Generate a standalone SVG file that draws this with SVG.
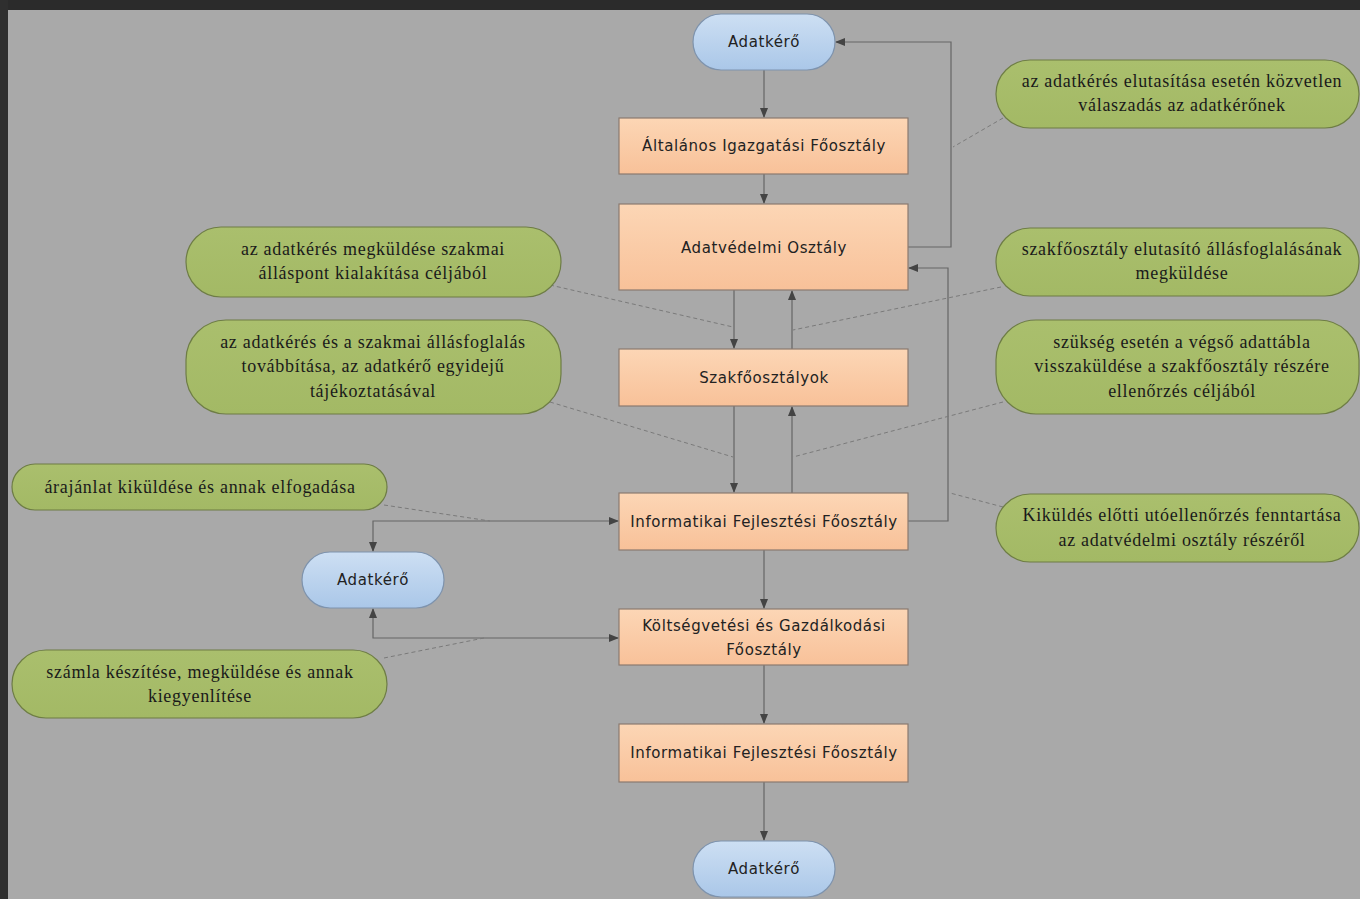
<svg xmlns="http://www.w3.org/2000/svg" width="1360" height="899" viewBox="0 0 1360 899">
<defs>
<linearGradient id="gBox" x1="0" y1="0" x2="0" y2="1"><stop offset="0" stop-color="#fcd6b5"/><stop offset="1" stop-color="#f8c199"/></linearGradient>
<linearGradient id="gBlue" x1="0" y1="0" x2="0" y2="1"><stop offset="0" stop-color="#cddff3"/><stop offset="1" stop-color="#aac7e8"/></linearGradient>
<linearGradient id="gGreen" x1="0" y1="0" x2="0" y2="1"><stop offset="0" stop-color="#aabf6d"/><stop offset="1" stop-color="#a3b965"/></linearGradient>
<marker id="arr" markerWidth="10" markerHeight="10" refX="9" refY="5" orient="auto" markerUnits="userSpaceOnUse"><path d="M0,1 L10,5 L0,9 Z" fill="#444"/></marker>
<marker id="arrs" markerWidth="10" markerHeight="10" refX="9" refY="5" orient="auto-start-reverse" markerUnits="userSpaceOnUse"><path d="M0,1 L10,5 L0,9 Z" fill="#444"/></marker>
</defs>
<style>
.box{fill:url(#gBox);stroke:#8a7a70;stroke-width:1.2}
.blue{fill:url(#gBlue);stroke:#7e93ad;stroke-width:1.2}
.green{fill:url(#gGreen);stroke:#6e7d45;stroke-width:1.2}
.bt{font-family:"DejaVu Sans","Liberation Sans",sans-serif;font-size:15px;fill:#222;text-anchor:middle;letter-spacing:0.6px}
.gt{font-family:"Liberation Serif",serif;font-size:18px;fill:#1a1a1a;text-anchor:middle;letter-spacing:0.7px}
.ln{fill:none;stroke:#666;stroke-width:1.2}
.dash{fill:none;stroke:#7a7a7a;stroke-width:1;stroke-dasharray:4 3}
</style>
<rect x="0" y="0" width="1360" height="899" fill="#a9a9a9"/>
<rect x="0" y="0" width="1360" height="10" fill="#2b2b2b"/>
<rect x="0" y="0" width="8" height="899" fill="#2f2f2f"/>

<g id="connectors">
<path class="ln" d="M764,70 V117" marker-end="url(#arr)"/>
<path class="ln" d="M764,174 V203" marker-end="url(#arr)"/>
<path class="ln" d="M908,247 H951 V42 H836" marker-end="url(#arr)"/>
<path class="ln" d="M734,290 V348" marker-end="url(#arr)"/>
<path class="ln" d="M792,349 V291" marker-end="url(#arr)"/>
<path class="ln" d="M734,406 V492" marker-end="url(#arr)"/>
<path class="ln" d="M792,493 V407" marker-end="url(#arr)"/>
<path class="ln" d="M908,521 H948 V268 H909" marker-end="url(#arr)"/>
<path class="ln" d="M373,551 V521 H618" marker-start="url(#arrs)" marker-end="url(#arr)"/>
<path class="ln" d="M373,609 V638 H618" marker-start="url(#arrs)" marker-end="url(#arr)"/>
<path class="ln" d="M764,550 V608" marker-end="url(#arr)"/>
<path class="ln" d="M764,665 V723" marker-end="url(#arr)"/>
<path class="ln" d="M764,782 V840" marker-end="url(#arr)"/>
<path class="dash" d="M1003,118 L953,147"/>
<path class="dash" d="M1001,287 L793,330"/>
<path class="dash" d="M1003,402 L793,457"/>
<path class="dash" d="M1003,507 L950,493"/>
<path class="dash" d="M550,285 L733,327"/>
<path class="dash" d="M550,402 L733,457"/>
<path class="dash" d="M384,505 L490,521"/>
<path class="dash" d="M384,658 L484,638"/>
</g>

<g id="n-adatkero-top"><rect class="blue" x="693" y="14" width="142" height="56" rx="28"/><text class="bt" x="764" y="47">Adatkérő</text></g>
<g id="n-altalanos"><rect class="box" x="619" y="118" width="289" height="56"/><text class="bt" x="764" y="151">Általános Igazgatási Főosztály</text></g>
<g id="n-adatvedelmi"><rect class="box" x="619" y="204" width="289" height="86"/><text class="bt" x="764" y="253">Adatvédelmi Osztály</text></g>
<g id="n-szak"><rect class="box" x="619" y="349" width="289" height="57"/><text class="bt" x="764" y="383">Szakfőosztályok</text></g>
<g id="n-info1"><rect class="box" x="619" y="493" width="289" height="57"/><text class="bt" x="764" y="527">Informatikai Fejlesztési Főosztály</text></g>
<g id="n-koltseg"><rect class="box" x="619" y="609" width="289" height="56"/><text class="bt" x="764" y="631">Költségvetési és Gazdálkodási</text><text class="bt" x="764" y="655">Főosztály</text></g>
<g id="n-info2"><rect class="box" x="619" y="724" width="289" height="58"/><text class="bt" x="764" y="758">Informatikai Fejlesztési Főosztály</text></g>
<g id="n-adatkero-bottom"><rect class="blue" x="693" y="841" width="142" height="56" rx="28"/><text class="bt" x="764" y="874">Adatkérő</text></g>
<g id="n-adatkero-left"><rect class="blue" x="302" y="552" width="142" height="56" rx="28"/><text class="bt" x="373" y="585">Adatkérő</text></g>

<g id="c1"><rect class="green" x="996" y="60" width="363" height="68" rx="34"/><text class="gt" x="1182" y="87">az adatkérés elutasítása esetén közvetlen</text><text class="gt" x="1182" y="111">válaszadás az adatkérőnek</text></g>
<g id="c2"><rect class="green" x="996" y="228" width="363" height="68" rx="34"/><text class="gt" x="1182" y="255">szakfőosztály elutasító állásfoglalásának</text><text class="gt" x="1182" y="279">megküldése</text></g>
<g id="c3"><rect class="green" x="996" y="320" width="363" height="94" rx="40"/><text class="gt" x="1182" y="348">szükség esetén a végső adattábla</text><text class="gt" x="1182" y="372">visszaküldése a szakfőosztály részére</text><text class="gt" x="1182" y="397">ellenőrzés céljából</text></g>
<g id="c4"><rect class="green" x="996" y="494" width="363" height="68" rx="34"/><text class="gt" x="1182" y="521">Kiküldés előtti utóellenőrzés fenntartása</text><text class="gt" x="1182" y="546">az adatvédelmi osztály részéről</text></g>
<g id="c5"><rect class="green" x="186" y="227" width="375" height="70" rx="35"/><text class="gt" x="373" y="255">az adatkérés megküldése szakmai</text><text class="gt" x="373" y="279">álláspont kialakítása céljából</text></g>
<g id="c6"><rect class="green" x="186" y="320" width="375" height="94" rx="40"/><text class="gt" x="373" y="348">az adatkérés és a szakmai állásfoglalás</text><text class="gt" x="373" y="372">továbbítása, az adatkérő egyidejű</text><text class="gt" x="373" y="397">tájékoztatásával</text></g>
<g id="c7"><rect class="green" x="12" y="464" width="375" height="46" rx="23"/><text class="gt" x="200" y="493">árajánlat kiküldése és annak elfogadása</text></g>
<g id="c8"><rect class="green" x="12" y="650" width="375" height="68" rx="34"/><text class="gt" x="200" y="678">számla készítése, megküldése és annak</text><text class="gt" x="200" y="702">kiegyenlítése</text></g>
</svg>
